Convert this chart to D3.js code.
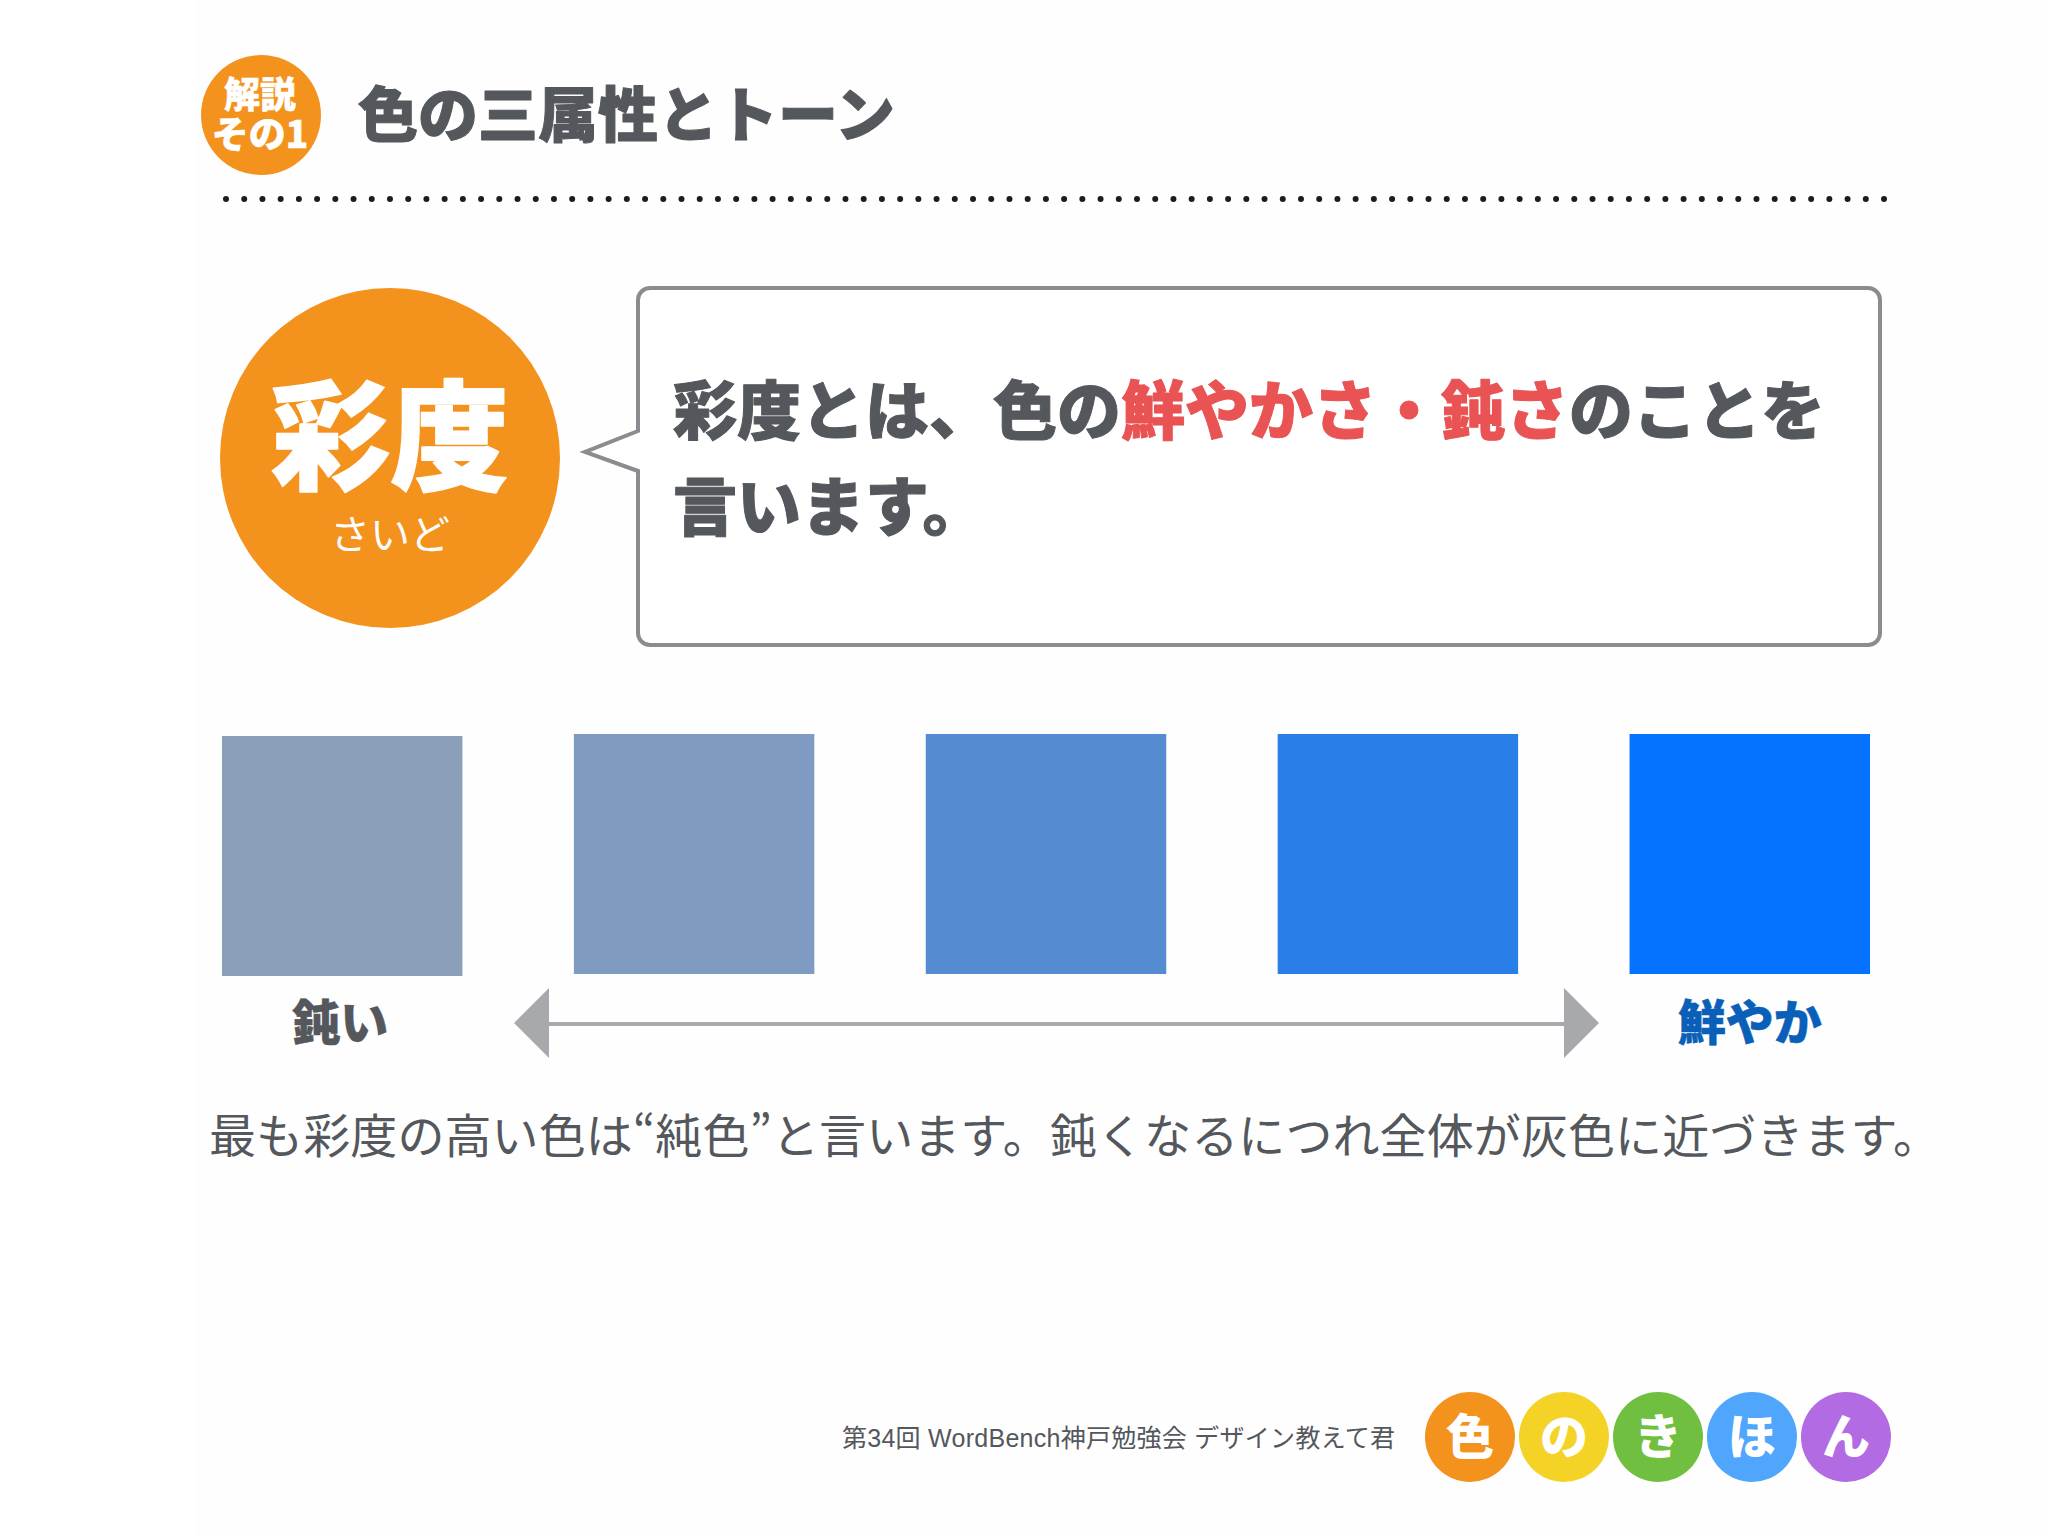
<!DOCTYPE html>
<html lang="ja">
<head>
<meta charset="utf-8">
<title>色の三属性とトーン</title>
<script src="https://d3js.org/d3.v7.min.js"></script>
<style>
  body { margin: 0; background: #fff; }
  svg { display: block; }
  text { font-family: "Noto Sans CJK JP", sans-serif; }
</style>
</head>
<body>
<svg id="chart"></svg>
<script>
const width = 2048, height = 1536;

// Chart content
const titleText = "色の三属性とトーン";
const badgeLines = ["解説", "その1"];
const termText = "彩度", termReading = "さいど";
const calloutLine1 = [
    ["彩度とは、色の", false],
    ["鮮やかさ・鈍さ", true],
    ["のことを", false]
];
const calloutLine2 = "言います。";
const saturationLevels = ["level1", "level2", "level3", "level4", "level5"];
const swatchColors = ["#8c9fb8", "#7f9bc1", "#548bd1", "#2a7ee8", "#0573ff"];
const scaleLabels = ["鈍い", "鮮やか"];
const noteText = "最も彩度の高い色は“純色”と言います。鈍くなるにつれ全体が灰色に近づきます。";
const footerText = "第34回 WordBench神戸勉強会 デザイン教えて君";
const logoChars = ["色", "の", "き", "ほ", "ん"];
const logoColors = ["#f4921e", "#f4d326", "#70bf41", "#4fa6fc", "#b26be2"];

const ink = "#54575c", orange = "#f4921e", red = "#e95353", grey = "#a7a9ac";

const svg = d3.select("#chart").attr("width", width).attr("height", height);

svg.append("rect").attr("width", width).attr("height", height).attr("fill", "#fff");
svg.append("rect").attr("x", 196).attr("width", width - 196).attr("height", height).attr("fill", "#fefefe");

// Thickens the bold face, the reference uses a heavier font
function heavy(sel, colour, w) {
    return sel.style("stroke", colour).style("stroke-width", w).style("stroke-linejoin", "round");
}

// Header ********************************************************
svg.append("circle").attr("cx", 261).attr("cy", 115).attr("r", 60).attr("fill", orange);

svg.selectAll(".badge")
    .data(badgeLines)
    .enter().append("text")
    .attr("class", "badge")
    .attr("x", 260)
    .attr("y", (d, i) => i === 0 ? 108 : 148)
    .attr("text-anchor", "middle")
    .style("font-size", (d, i) => i === 0 ? "36px" : "37px")
    .style("font-weight", 900)
    .style("fill", "#fff")
    .style("stroke", "#fff")
    .style("stroke-width", 0.5)
    .text(d => d);

heavy(svg.append("text")
    .attr("x", 358)
    .attr("y", 137)
    .style("font-size", "60px")
    .style("font-weight", 900)
    .style("fill", ink)
    .text(titleText), ink, 1);

// Dotted rule
svg.append("line")
    .attr("x1", 226).attr("x2", 1888)
    .attr("y1", 199).attr("y2", 199)
    .style("stroke", "#1c1c1c")
    .style("stroke-width", 6)
    .style("stroke-linecap", "round")
    .style("stroke-dasharray", "0 18.22");

// Term circle ***************************************************
svg.append("circle").attr("cx", 390).attr("cy", 458).attr("r", 170).attr("fill", orange);

heavy(svg.append("text")
    .attr("x", 390)
    .attr("y", 481)
    .attr("text-anchor", "middle")
    .style("font-size", "119px")
    .style("font-weight", 900)
    .style("fill", "#fff")
    .text(termText), "#fff", 1.5);

svg.append("text")
    .attr("x", 390)
    .attr("y", 549)
    .attr("text-anchor", "middle")
    .style("font-size", "40px")
    .style("font-weight", 400)
    .style("fill", "#fff")
    .text(termReading);

// Speech bubble
const bubble = d3.path();
bubble.moveTo(650, 288);
bubble.lineTo(1868, 288);
bubble.arcTo(1880, 288, 1880, 300, 12);
bubble.lineTo(1880, 633);
bubble.arcTo(1880, 645, 1868, 645, 12);
bubble.lineTo(650, 645);
bubble.arcTo(638, 645, 638, 633, 12);
bubble.lineTo(638, 471);
bubble.lineTo(585, 452);
bubble.lineTo(638, 431);
bubble.lineTo(638, 300);
bubble.arcTo(638, 288, 650, 288, 12);
bubble.closePath();

svg.append("path")
    .attr("d", bubble.toString())
    .attr("fill", "#fff")
    .style("stroke", "#8a8c8f")
    .style("stroke-width", 4);

const line1 = svg.append("text")
    .attr("x", 673)
    .attr("y", 434)
    .style("font-size", "64px")
    .style("font-weight", 900);

line1.selectAll("tspan")
    .data(calloutLine1)
    .enter().append("tspan")
    .style("fill", d => d[1] ? red : ink)
    .style("stroke", d => d[1] ? red : ink)
    .style("stroke-width", 1)
    .style("stroke-linejoin", "round")
    .text(d => d[0]);

heavy(svg.append("text")
    .attr("x", 673)
    .attr("y", 530)
    .style("font-size", "64px")
    .style("font-weight", 900)
    .style("fill", ink)
    .text(calloutLine2), ink, 1);

// Swatches ******************************************************
const x = d3.scaleBand()
    .domain(saturationLevels)
    .range([222, 1870])
    .paddingInner(0.3167)
    .paddingOuter(0);

svg.selectAll(".swatch")
    .data(saturationLevels)
    .enter().append("rect")
    .attr("class", "swatch")
    .attr("x", d => x(d))
    .attr("y", (d, i) => i === 0 ? 736 : 734)
    .attr("width", x.bandwidth())
    .attr("height", 240)
    .attr("fill", (d, i) => swatchColors[i]);

// Double-headed arrow
svg.append("line")
    .attr("x1", 548).attr("x2", 1564)
    .attr("y1", 1024).attr("y2", 1024)
    .style("stroke", grey)
    .style("stroke-width", 4);

svg.selectAll(".arrowhead")
    .data([[549, 514], [1564, 1599]])
    .enter().append("path")
    .attr("class", "arrowhead")
    .attr("d", d => `M${d[0]},988 L${d[1]},1023 L${d[0]},1058 Z`)
    .attr("fill", grey);

svg.selectAll(".scale-label")
    .data(scaleLabels)
    .enter().append("text")
    .attr("class", "scale-label")
    .attr("x", (d, i) => i === 0 ? x(saturationLevels[0]) + x.bandwidth() / 2 - 2 : x(saturationLevels[4]) + x.bandwidth() / 2)
    .attr("y", 1040)
    .attr("text-anchor", "middle")
    .style("font-size", "48px")
    .style("font-weight", 900)
    .style("fill", (d, i) => i === 0 ? ink : "#0a5fb8")
    .style("stroke", (d, i) => i === 0 ? ink : "#0a5fb8")
    .style("stroke-width", 0.5)
    .text(d => d);

// Note sentence (the last full stop carries blank space on its right)
svg.append("text")
    .attr("x", 209)
    .attr("y", 1153)
    .attr("textLength", 1731)
    .attr("lengthAdjust", "spacing")
    .style("font-size", "47px")
    .style("font-weight", 400)
    .style("fill", ink)
    .text(noteText);

// Footer ********************************************************
svg.append("text")
    .attr("x", 842)
    .attr("y", 1447)
    .attr("textLength", 553)
    .attr("lengthAdjust", "spacing")
    .style("font-family", '"Liberation Sans", "Noto Sans CJK JP", sans-serif')
    .style("font-size", "25px")
    .style("fill", ink)
    .text(footerText);

const logoX = d3.scalePoint().domain(logoChars).range([1470, 1846]);

const logo = svg.selectAll(".logo")
    .data(logoChars)
    .enter().append("g")
    .attr("class", "logo")
    .attr("transform", d => `translate(${logoX(d)},1437)`);

logo.append("circle")
    .attr("r", 45)
    .attr("fill", (d, i) => logoColors[i]);

logo.append("text")
    .attr("y", 17)
    .attr("text-anchor", "middle")
    .style("font-size", "48px")
    .style("font-weight", 900)
    .style("fill", "#fff")
    .text(d => d);
</script>
</body>
</html>
